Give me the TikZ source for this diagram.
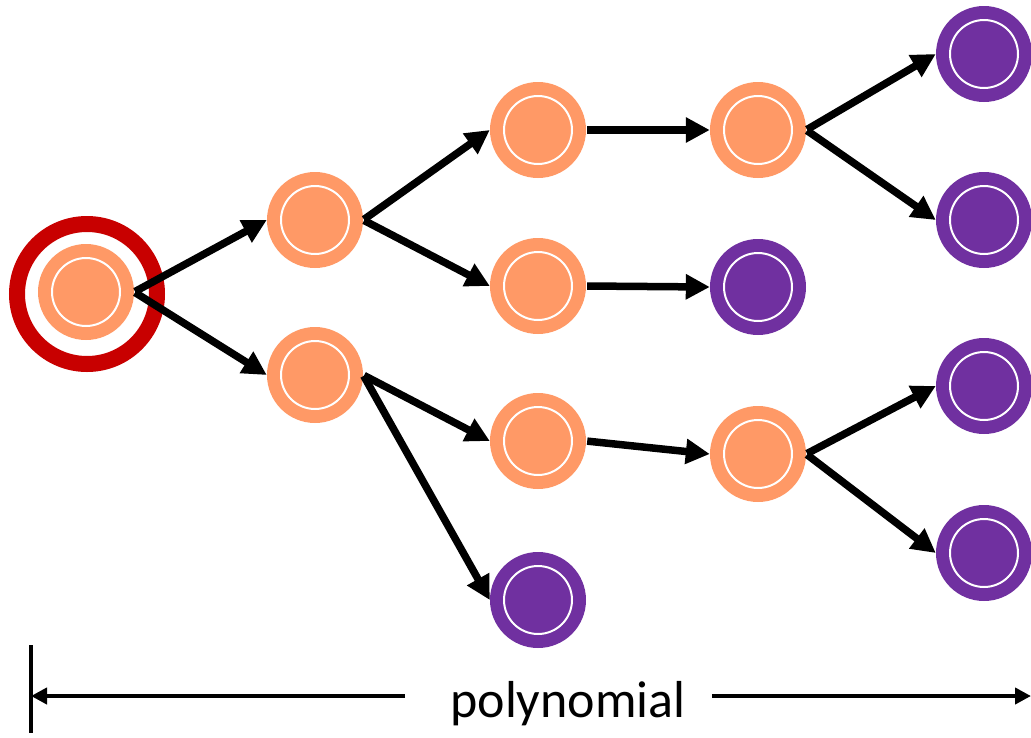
\documentclass[tikz,border=0pt]{standalone}
\usepackage{fontspec}
\setmainfont{Carlito}
\usetikzlibrary{arrows.meta}
\definecolor{nodeorange}{HTML}{FF9966}
\definecolor{leafpurple}{HTML}{7030A0}
\definecolor{ringred}{HTML}{C80000}
\tikzset{
  state/.style={circle, inner sep=0pt, minimum size=96pt, draw=none,
    path picture={\draw[white, line width=2pt] (path picture bounding box.center) circle (34pt);}},
  inner/.style={state, fill=nodeorange},
  leaf/.style={state, fill=leafpurple},
  startring/.style={circle, inner sep=0pt, minimum size=140pt, draw=ringred, line width=16pt},
  edge/.style={line width=7.5pt, shorten <=1pt, -{Triangle[length=24pt,width=24pt]}},
  axisarr/.style={line width=4.5pt, -{Triangle[length=16pt,width=16pt]}},
}
\begin{document}
\begin{tikzpicture}[x=1pt, y=-1pt]
\useasboundingbox (0,0) rectangle (1031,737);

% tree nodes
\node[startring] (ring) at (87,294) {};
\node[inner] (root) at (86,292) {};
\node[inner] (a) at (315,220) {};
\node[inner] (b) at (315,375) {};
\node[inner] (c1) at (538,130) {};
\node[inner] (c2) at (538,286) {};
\node[inner] (c3) at (538,441) {};
\node[leaf]  (p1) at (538,600) {};
\node[inner] (d1) at (758,130) {};
\node[leaf]  (p2) at (758,287) {};
\node[inner] (d2) at (758,454) {};
\node[leaf]  (p3) at (984,54) {};
\node[leaf]  (p4) at (984,220) {};
\node[leaf]  (p5) at (984,386) {};
\node[leaf]  (p6) at (984,553) {};

% branches
\draw[edge] (root.east) -- (a.west);
\draw[edge] (root.east) -- (b.west);
\draw[edge] (a.east) -- (c1.west);
\draw[edge] (a.east) -- (c2.west);
\draw[edge] (b.east) -- (c3.west);
\draw[edge] (b.east) -- (p1.west);
\draw[edge] (c1.east) -- (d1.west);
\draw[edge] (c2.east) -- (p2.west);
\draw[edge] (c3.east) -- (d2.west);
\draw[edge] (d1.east) -- (p3.west);
\draw[edge] (d1.east) -- (p4.west);
\draw[edge] (d2.east) -- (p5.west);
\draw[edge] (d2.east) -- (p6.west);

% size axis
\coordinate (bartop) at (31,645);
\coordinate (barbot) at (31,733);
\coordinate (lend) at (31,696);
\coordinate (rend) at (1031,696);
\draw[line width=4pt] (bartop) -- (barbot);
\node[anchor=base, inner sep=0pt, font=\fontsize{52}{60}\selectfont] (poly) at (568,717) {polynomial};
\draw[axisarr] ([xshift=-45pt]poly.west |- lend) -- (lend);
\draw[axisarr] ([xshift=26pt]poly.east |- rend) -- (rend);
\end{tikzpicture}
\end{document}
